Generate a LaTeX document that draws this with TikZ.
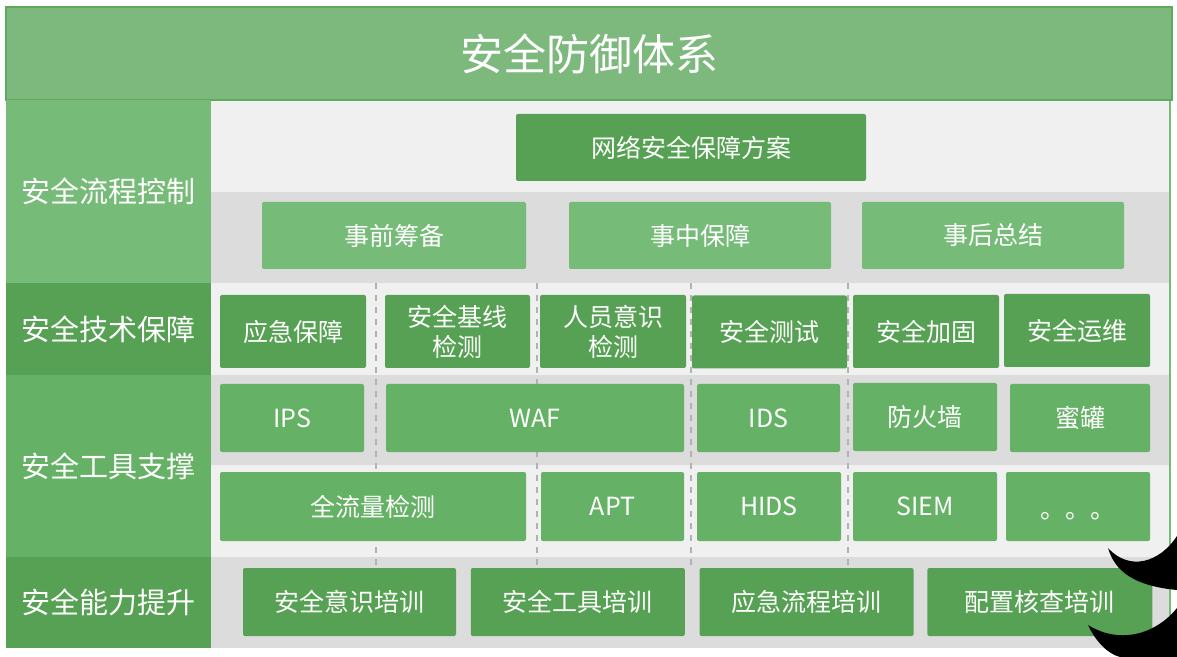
\documentclass[tikz,border=0pt]{standalone}
\usepackage{fontspec}
\setmainfont{Noto Sans CJK SC}
\usepackage{xcolor}
\usetikzlibrary{positioning}

\definecolor{titlegreen}{HTML}{7DB87D}
\definecolor{titleborder}{HTML}{5FA95F}
\definecolor{lightgreen}{HTML}{77BB79}
\definecolor{midgreen}{HTML}{65B165}
\definecolor{darkgreen}{HTML}{56A153}
\definecolor{bandlight}{HTML}{F0F0F0}
\definecolor{banddark}{HTML}{DCDCDC}

\begin{document}
\begin{tikzpicture}[
    x=0.5pt, y=-0.5pt,
    block/.style={rectangle, rounded corners=1pt, text=white, align=center, inner sep=0pt, font=\fontsize{12.5}{15}\selectfont},
    darkblock/.style={block, fill=darkgreen},
    midblock/.style={block, fill=midgreen},
    lightblock/.style={block, fill=lightgreen},
    catcell/.style={rectangle, text=white, inner sep=0pt, minimum width=102.5pt, font=\fontsize{14.5}{17}\selectfont},
    sep/.style={dashed, draw=black!30, line width=0.6pt},
]
\useasboundingbox[fill=white] (0,0) rectangle (1177,657);

% Bands behind the blocks
\fill[bandlight] (211,100) rectangle (1170,192);
\fill[banddark]  (211,192) rectangle (1170,283);
\fill[bandlight] (211,283) rectangle (1170,375);
\fill[banddark]  (211,375) rectangle (1170,465);
\fill[bandlight] (211,465) rectangle (1170,557);
\fill[banddark]  (211,557) rectangle (1170,648);
\draw[lightgreen, line width=0.6pt] (1170,100) -- (1170,648);

% Separators
\foreach \xs in {376, 537, 691, 848}
    \draw[sep] (\xs,283) -- (\xs,568);

% Title
\node[rectangle, fill=titlegreen, draw=titleborder, line width=1pt, text=white,
      minimum width=583pt, minimum height=46.5pt, font=\fontsize{21.5}{25}\selectfont]
      (title) at (589,53.5) {安全防御体系};

% Left column
\node[catcell, fill=lightgreen, minimum height=91.5pt] (flow) at (108.5,191.5) {安全流程控制};
\node[catcell, fill=darkgreen, minimum height=46pt] (tech) at (108.5,329) {安全技术保障};
\node[catcell, fill=midgreen, minimum height=91pt] (tools) at (108.5,466) {安全工具支撑};
\node[catcell, fill=darkgreen, minimum height=45.5pt] (ability) at (108.5,602.5) {安全能力提升};

% Process control
\node[darkblock, minimum width=175pt, minimum height=33.5pt] (plan) at (691,147.5) {网络安全保障方案};
\node[lightblock, minimum width=132pt, minimum height=33.5pt] (before) at (394,235.5) {事前筹备};
\node[lightblock, minimum width=131pt, minimum height=33.5pt] (during) at (700,235.5) {事中保障};
\node[lightblock, minimum width=131pt, minimum height=33.5pt] (after) at (993,235.5) {事后总结};

% Technical guarantee
\node[darkblock, minimum width=73pt, minimum height=36.5pt] (emergency) at (293,331.5) {应急保障};
\node[darkblock, minimum width=72.5pt, minimum height=36.5pt] (baseline) at (457.5,331.5) {安全基线\\检测};
\node[darkblock, minimum width=73pt, minimum height=36.5pt] (awareness) at (613,331.5) {人员意识\\检测};
\node[darkblock, minimum width=77.5pt, minimum height=36.5pt] (testing) at (769.5,332) {安全测试};
\node[darkblock, minimum width=73pt, minimum height=36.5pt] (hardening) at (926,331.5) {安全加固};
\node[darkblock, minimum width=73pt, minimum height=36.5pt] (operation) at (1077,330.5) {安全运维};

% Tool support
\node[midblock, minimum width=72pt, minimum height=34pt] (ips) at (292,418) {IPS};
\node[midblock, minimum width=149pt, minimum height=34pt] (waf) at (535,418) {WAF};
\node[midblock, minimum width=71.5pt, minimum height=34pt] (ids) at (768.5,418) {IDS};
\node[midblock, minimum width=72pt, minimum height=34pt] (firewall) at (925,417) {防火墙};
\node[midblock, minimum width=70pt, minimum height=34pt] (honeypot) at (1080,418) {蜜罐};

\node[midblock, minimum width=153pt, minimum height=34.5pt] (fullflow) at (373,506.5) {全流量检测};
\node[midblock, minimum width=71.5pt, minimum height=34.5pt] (apt) at (612.5,506.5) {APT};
\node[midblock, minimum width=72pt, minimum height=34.5pt] (hids) at (769,506.5) {HIDS};
\node[midblock, minimum width=72pt, minimum height=34.5pt] (siem) at (925,506.5) {SIEM};
\node[midblock, minimum width=72pt, minimum height=34.5pt] (more) at (1078,506.5) {\raisebox{-6pt}[0pt][0pt]{。。。}};

% Ability improvement
\node[darkblock, minimum width=106.5pt, minimum height=34pt] (awaretrain) at (349.5,602) {安全意识培训};
\node[darkblock, minimum width=107pt, minimum height=34pt, right=7pt of awaretrain] (tooltrain) {安全工具培训};
\node[darkblock, minimum width=107pt, minimum height=34pt, right=7pt of tooltrain] (emergtrain) {应急流程培训};
\node[darkblock, minimum width=112.5pt, minimum height=34pt, right=6.5pt of emergtrain] (configtrain) {配置核查培训};

% Dark marks at the lower right
\fill[black] (1108,548) .. controls (1115,572) and (1135,586) .. (1177,590)
    -- (1177,536) .. controls (1160,562) and (1130,572) .. (1108,548);
\fill[black] (1088,625) .. controls (1096,642) and (1108,654) .. (1120,657)
    -- (1177,657) -- (1177,608) .. controls (1158,632) and (1122,646) .. (1088,625);

\end{tikzpicture}
\end{document}
